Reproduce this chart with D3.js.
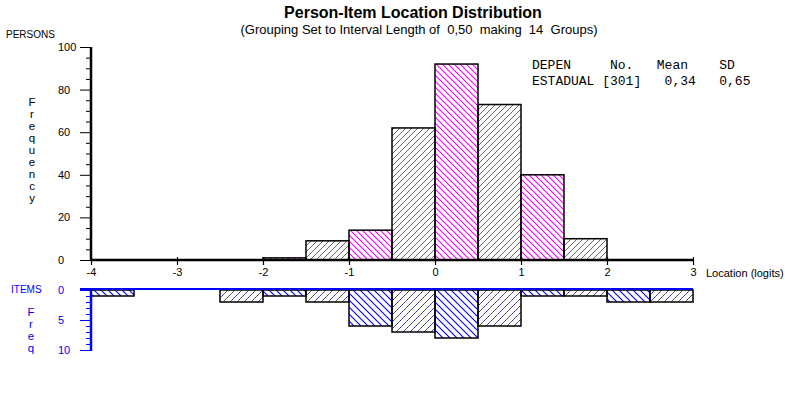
<!DOCTYPE html>
<html>
<head>
<meta charset="utf-8">
<title>Person-Item Location Distribution</title>
<script src="https://cdn.jsdelivr.net/npm/d3@7"></script>
<style>
  html, body { margin: 0; padding: 0; background: #fff; }
  svg { display: block; font-family: "Liberation Sans", Arial, sans-serif; }
  .mono { font-family: "Liberation Mono", "Courier New", monospace; white-space: pre; }
</style>
</head>
<body>
<svg id="chart" width="785" height="397"></svg>
<script>
// 14 groups of 0.50 logits, lower bound of each group
const binStarts = [-4, -3.5, -3, -2.5, -2, -1.5, -1, -0.5, 0, 0.5, 1, 1.5, 2, 2.5]
const binWidth = 0.5
const persons = [0, 0, 0, 0, 1, 9, 14, 62, 92, 73, 40, 10, 0, 0]
const items = [1, 0, 0, 2, 1, 2, 6, 7, 8, 6, 1, 1, 2, 2]
const xTicks = [-4, -3, -2, -1, 0, 1, 2, 3]
const personTicks = [0, 20, 40, 60, 80, 100]
const itemTicks = [0, 5, 10]
const legendRows = ['DEPEN     No.   Mean    SD', 'ESTADUAL [301]   0,34   0,65']

const svg = d3.select('#chart')
const magenta = '#ff00ff'
const blue = '#0000ff'

const x = d3.scaleLinear().domain([-4, 3]).range([91, 693])
const yP = d3.scaleLinear().domain([0, 100]).range([260, 47])
const yI = d3.scaleLinear().domain([0, 10]).range([290, 350])

// hatch patterns
const defs = svg.append('defs')
const hatch = (id, size, dir, color, dark) => {
  let p = defs.append('pattern').attr('id', id)
    .attr('patternUnits', 'userSpaceOnUse')
    .attr('width', size).attr('height', size)
  let d = dir === 'back'
    ? `M${-1},${-1}L${size + 1},${size + 1}M${size - 1},-1L${size + 1},1M-1,${size - 1}L1,${size + 1}`
    : `M-1,${size + 1}L${size + 1},-1M-1,1L1,-1M${size - 1},${size + 1}L${size + 1},${size - 1}`
  if (dark) {
    p.append('path').attr('d', d).attr('stroke', '#555').attr('stroke-width', 0.9)
    p.append('path').attr('d', d).attr('stroke', color).attr('stroke-width', 0.9)
      .attr('stroke-dasharray', '1,2')
  } else {
    p.append('path').attr('d', d).attr('stroke', color).attr('stroke-width', 1.1)
  }
}
hatch('pBack', 6, 'back', magenta, false)
hatch('pFwd', 6, 'fwd', magenta, true)
hatch('iBack', 7, 'back', blue, false)
hatch('iFwd', 7, 'fwd', blue, true)

// titles
svg.append('text').attr('x', 413).attr('y', 18).attr('text-anchor', 'middle')
  .attr('font-size', 16).attr('font-weight', 'bold').text('Person-Item Location Distribution')
svg.append('text').attr('x', 419).attr('y', 34).attr('text-anchor', 'middle')
  .attr('font-size', 13).style('white-space', 'pre')
  .text('(Grouping Set to Interval Length of  0,50  making  14  Groups)')

svg.append('text').attr('x', 6).attr('y', 38).attr('font-size', 10).text('PERSONS')

// legend
svg.selectAll('.legend').data(legendRows).join('text')
  .attr('class', 'mono').attr('x', 532).attr('y', (d, i) => 69 + i * 16)
  .attr('font-size', 13).text(d => d)

// vertical "Frequency"
svg.append('g').selectAll('text').data('Frequency'.split('')).join('text')
  .attr('x', 32).attr('y', (d, i) => 106 + i * 12).attr('text-anchor', 'middle')
  .attr('font-size', 11.5).text(d => d)
svg.append('g').selectAll('text').data('Freq'.split('')).join('text')
  .attr('x', 31).attr('y', (d, i) => 316 + i * 12).attr('text-anchor', 'middle')
  .attr('font-size', 11.5).attr('fill', blue).text(d => d)

// person bars
svg.append('g').selectAll('rect').data(binStarts.filter((d, i) => persons[i] > 0)).join('rect')
  .attr('x', d => x(d))
  .attr('width', d => x(d + binWidth) - x(d))
  .attr('y', d => yP(persons[binStarts.indexOf(d)]))
  .attr('height', d => yP(0) - yP(persons[binStarts.indexOf(d)]))
  .attr('fill', d => binStarts.indexOf(d) % 2 === 0 ? 'url(#pBack)' : 'url(#pFwd)')
  .attr('stroke', '#000').attr('stroke-width', 1.5)

// item bars
svg.append('g').selectAll('rect').data(binStarts.filter((d, i) => items[i] > 0)).join('rect')
  .attr('x', d => x(d))
  .attr('width', d => x(d + binWidth) - x(d))
  .attr('y', yI(0))
  .attr('height', d => yI(items[binStarts.indexOf(d)]) - yI(0))
  .attr('fill', d => binStarts.indexOf(d) % 2 === 0 ? 'url(#iBack)' : 'url(#iFwd)')
  .attr('stroke', '#000').attr('stroke-width', 1.5)

// x axis
const xAxis = svg.append('g').attr('transform', `translate(0,${yP(0)})`)
  .call(d3.axisBottom(x).tickValues(xTicks).tickSize(5).tickFormat(d3.format('d')))
xAxis.select('.domain').remove()
xAxis.selectAll('.tick line').attr('y1', -3).attr('y2', 5).attr('stroke-width', 1.2)
xAxis.selectAll('.tick text').attr('y', 8).attr('font-size', 11)
  .attr('font-family', '"Liberation Sans", Arial, sans-serif').text(d => d < 0 ? '-' + Math.abs(d) : d)
svg.append('line').attr('x1', x(-4)).attr('x2', x(3)).attr('y1', yP(0)).attr('y2', yP(0))
  .attr('stroke', '#000').attr('stroke-width', 2.5)
svg.append('text').attr('x', 706).attr('y', 277).attr('font-size', 11).text('Location (logits)')

// person y axis
const minorP = d3.range(0, 101, 5).filter(v => v % 20 !== 0)
const yAxisMinor = svg.append('g').attr('transform', `translate(${x(-4)},0)`)
  .call(d3.axisLeft(yP).tickValues(minorP).tickSize(5).tickFormat(''))
yAxisMinor.select('.domain').remove()
const yAxis = svg.append('g').attr('transform', `translate(${x(-4)},0)`)
  .call(d3.axisLeft(yP).tickValues(personTicks).tickSize(11))
yAxis.select('.domain').remove()
yAxis.selectAll('.tick text').attr('x', -33).attr('text-anchor', 'start').attr('font-size', 11)
  .attr('font-family', '"Liberation Sans", Arial, sans-serif')
svg.append('line').attr('x1', x(-4)).attr('x2', x(-4)).attr('y1', yP(100)).attr('y2', yP(0) + 1)
  .attr('stroke', '#000').attr('stroke-width', 2.5)

// item y axis (downward)
const minorI = d3.range(0, 11, 1).filter(v => v % 5 !== 0)
const iMinor = svg.append('g').attr('transform', `translate(${x(-4)},0)`)
  .call(d3.axisLeft(yI).tickValues(minorI).tickSize(5).tickFormat(''))
iMinor.select('.domain').remove()
const iAxis = svg.append('g').attr('transform', `translate(${x(-4)},0)`)
  .call(d3.axisLeft(yI).tickValues(itemTicks).tickSize(11))
iAxis.select('.domain').remove()
iAxis.selectAll('.tick text').attr('x', -33).attr('text-anchor', 'start').attr('font-size', 11)
  .attr('font-family', '"Liberation Sans", Arial, sans-serif')
iMinor.selectAll('line').attr('stroke', blue)
iAxis.selectAll('line').attr('stroke', blue)
iAxis.selectAll('text').attr('fill', blue)
svg.append('line').attr('x1', x(-4) - 11).attr('x2', x(3)).attr('y1', yI(0) - 1).attr('y2', yI(0) - 1)
  .attr('stroke', blue).attr('stroke-width', 2)
svg.append('line').attr('x1', x(-4)).attr('x2', x(-4)).attr('y1', yI(0) - 1).attr('y2', yI(10) + 1)
  .attr('stroke', blue).attr('stroke-width', 2.5)
svg.append('text').attr('x', 11).attr('y', 293).attr('font-size', 10).attr('fill', blue).text('ITEMS')
</script>
</body>
</html>
